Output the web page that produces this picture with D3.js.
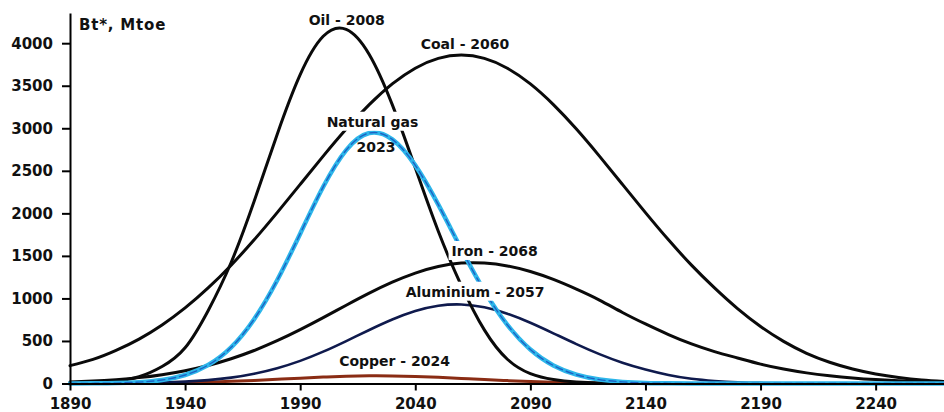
<!DOCTYPE html>
<html><head><meta charset="utf-8">
<script src="https://cdn.jsdelivr.net/npm/d3@7"></script>
<style>
html,body{margin:0;padding:0;background:#fff;}
svg{display:block;}
text{font-family:"DejaVu Sans",sans-serif;font-weight:bold;fill:#111;}
</style></head><body>
<svg id="chart" width="944" height="412"></svg>
<script>
const years = [1890,1900,1910,1920,1930,1940,1950,1960,1970,1980,1990,2000,2010,2020,2030,2040,2050,2060,2070,2080,2090,2100,2110,2120,2130,2140,2150,2160,2170,2180,2190,2200,2210,2220,2230,2240,2250,2260,2270];
const coal = [210,283,389,522,688,888,1123,1391,1689,2009,2341,2673,2991,3278,3521,3706,3821,3860,3821,3706,3521,3278,2991,2673,2341,2009,1689,1391,1123,880,670,495,355,250,170,112,70,40,22];
const oil = [3,9,28,80,200,420,856,1422,2142,2928,3630,4081,4163,3868,3278,2535,1789,1151,630,285,116,46,17,5,1,0,0,0,0,0,0,0,0,0,0,0,0,0,0];
const gas = [0,2,5,16,41,100,217,425,756,1213,1761,2312,2744,2944,2869,2564,2102,1580,1089,689,399,212,104,46,19,7,2,0,0,0,0,0,0,0,0,0,0,0,0];
const iron = [17,28,45,69,104,151,212,291,388,503,633,774,920,1062,1191,1298,1375,1415,1416,1382,1316,1223,1109,981,835,700,575,465,375,300,228,170,125,92,66,46,31,20,12];
const aluminium = [0,1,2,5,11,22,40,69,115,180,266,374,499,629,752,852,914,929,896,821,714,590,463,345,244,164,100,55,30,15,7,3,1,0,0,0,0,0,0];
const copper = [0,1,2,3,6,10,16,25,36,49,63,75,85,90,89,83,73,60,46,34,23,15,9,5,3,1,0,0,0,0,0,0,0,0,0,0,0,0,0];

const yTicks = [0,500,1000,1500,2000,2500,3000,3500,4000];
const xTicks = [1890,1940,1990,2040,2090,2140,2190,2240];
const unitLabel = "Bt*, Mtoe";

const labelTexts = ["Oil - 2008","Coal - 2060","Natural gas","2023","Iron - 2068","Aluminium - 2057","Copper - 2024"];
const labelYears = [2010.2,2061.6,2021.4,2022.9,2074.5,2066,2031];
const labelValues = [4214,3928,3018,2718,1499,1020,206];
const labelMasks = [false,false,true,false,true,true,false];

const svg = d3.select("#chart");
const x = d3.scaleLinear().domain([1890,2270]).range([70,944.7]);
const y = d3.scaleLinear().domain([0,4355]).range([383.5,13]);

const line = d3.line().x((d,i)=>x(years[i])).y(d=>y(d)).curve(d3.curveNatural);

function draw(vals, color, width, extra){
  const p = svg.append("path").datum(vals).attr("d",line)
    .attr("fill","none").attr("stroke",color).attr("stroke-width",width)
    .attr("stroke-linejoin","round").attr("stroke-linecap","round");
  if(extra) extra(p);
  return p;
}
draw(copper,"#8a2c14",3);
draw(aluminium,"#0f1a4d",2.6);
draw(iron,"#0a0a0a",3);
draw(coal,"#0a0a0a",3);
draw(oil,"#0a0a0a",3);
draw(gas,"#2db6ea",4.5);
draw(gas,"#1c62c4",1.4,p=>p.attr("stroke-dasharray","7,4"));

// labels
const lg = svg.append("g");
labelTexts.forEach((t,i)=>{
  const g = lg.append("g");
  const txt = g.append("text").attr("x",x(labelYears[i])).attr("y",y(labelValues[i]))
    .attr("text-anchor","middle").attr("font-size",14).text(t);
  if(labelMasks[i]){
    const b = txt.node().getBBox();
    g.insert("rect","text").attr("x",b.x-3).attr("y",b.y-2).attr("width",b.width+6).attr("height",b.height+3).attr("fill","#fff");
  }
});

// axes
const yAxis = d3.axisLeft(y).tickValues(yTicks).tickSize(8).tickPadding(9).tickSizeOuter(0).tickFormat(d3.format("d"));
const xAxis = d3.axisBottom(x).tickValues(xTicks).tickSize(7).tickPadding(7.5).tickSizeOuter(0).tickFormat(d3.format("d"));
const ya = svg.append("g").attr("transform","translate(70,0)").call(yAxis);
const xa = svg.append("g").attr("transform","translate(0,383.5)").call(xAxis);
[ya,xa].forEach(a=>{
  a.select(".domain").attr("stroke","#000").attr("stroke-width",2);
  a.selectAll(".tick line").attr("stroke","#000").attr("stroke-width",2);
  a.selectAll(".tick text").attr("font-size",15).attr("font-family","DejaVu Sans").attr("font-weight","bold").attr("fill","#111");
});

svg.append("text").attr("x",79).attr("y",30).attr("font-size",15).attr("letter-spacing",0.8).text(unitLabel);
</script>
</body></html>
